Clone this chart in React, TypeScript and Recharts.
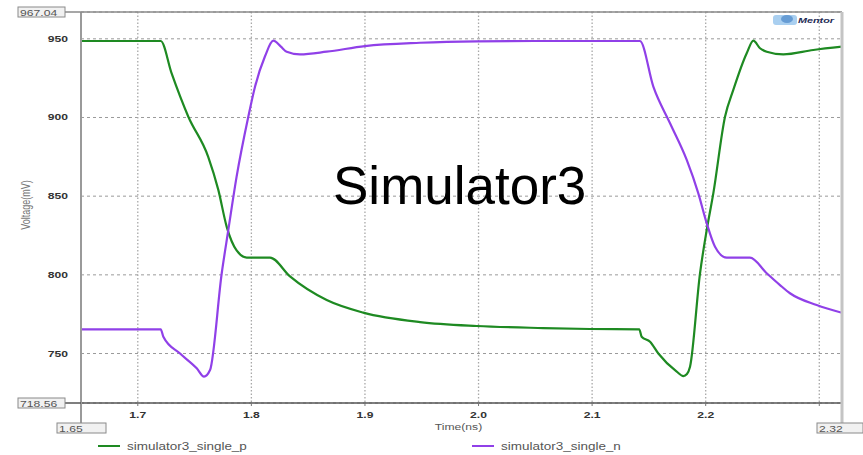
import { CartesianGrid, Legend, Line, LineChart, XAxis, YAxis } from "recharts";

// axis ranges and ticks
const xDomain = [1.65, 2.32];
const yDomain = [718.56, 967.04];
const xTicks = [1.7, 1.8, 1.9, 2.0, 2.1, 2.2, 2.3];
const xLabels = ["1.7", "1.8", "1.9", "2.0", "2.1", "2.2"];
const yTicks = [750, 800, 850, 900, 950];
const seriesNames = ["simulator3_single_p", "simulator3_single_n"];

// simulator3_single_p  (time in ns, voltage in mV)
const pTime = [
  1.65, 1.7202, 1.7298, 1.7445, 1.762, 1.7709, 1.7783, 1.787, 1.7959, 1.8164,
  1.834, 1.8663, 1.8985, 1.9485, 1.9984, 2.057, 2.0981, 2.1415, 2.1436, 2.151,
  2.1583, 2.1745, 2.1803, 2.1835, 2.1862, 2.195, 2.2009, 2.2067, 2.217, 2.2243,
  2.2361, 2.242, 2.2478, 2.2537, 2.2683, 2.2947, 2.32,
];
const pVolt = [
  948.6, 948.6, 928, 900.5, 875, 854, 830.5, 815.5, 811, 811,
  799, 784, 776, 770, 767.5, 766.2, 765.6, 765.4, 760.7, 757.5,
  750, 738.5, 735.7, 737, 741.6, 801, 828.5, 851.8, 900.5, 917.5,
  940.8, 948.8, 944, 941.8, 940.1, 942.9, 945,
];

// simulator3_single_n
const nTime = [
  1.65, 1.7202, 1.7225, 1.7372, 1.7519, 1.7583, 1.7636, 1.7739, 1.7797, 1.787,
  1.7973, 1.8032, 1.812, 1.8193, 1.826, 1.8311, 1.8428, 1.8663, 1.9, 1.9485,
  1.9984, 2.05, 2.1421, 2.1539, 2.1686, 2.1833, 2.1935, 2.2009, 2.2082, 2.2185,
  2.239, 2.2537, 2.2654, 2.2742, 2.2977, 2.32,
];
const nVolt = [
  765.4, 765.4, 760.7, 750, 740.6, 735.3, 739.5, 801, 828.5, 862.4,
  900.5, 919.6, 938.9, 948.8, 945, 941.8, 940.1, 941.8, 945.4, 947.5,
  948.4, 948.6, 948.6, 919.6, 896.3, 873, 851.8, 832.8, 817.9, 810.9,
  810.9, 801, 793.5, 788.3, 780.8, 775.9,
];

const pData = pTime.map((t, i) => ({ t, v: pVolt[i] }));
const nData = nTime.map((t, i) => ({ t, v: nVolt[i] }));

const FONT = "'Liberation Sans', Arial, sans-serif";
const SX = 1.35; // text in this plot is drawn horizontally stretched

function XTick(props: any) {
  const { x, y, payload } = props;
  const label = xLabels.find((l) => Number(l) === payload.value) ?? "";
  return (
    <text
      transform={`translate(${x},${y + 7}) scale(${SX},1)`}
      textAnchor="middle"
      fontSize={9}
      fontWeight={700}
      fontFamily={FONT}
      fill="#333"
    >
      {label}
    </text>
  );
}

function YTick(props: any) {
  const { x, y, payload } = props;
  return (
    <text
      transform={`translate(${x},${y + 3}) scale(${SX},1)`}
      textAnchor="end"
      fontSize={9}
      fontWeight={700}
      fontFamily={FONT}
      fill="#333"
    >
      {payload.value}
    </text>
  );
}

function XTitle(props: any) {
  const { x, y, width, height } = props.viewBox;
  return (
    <text
      transform={`translate(${x + width / 2 - 3},${y + height - 5}) scale(${SX},1)`}
      textAnchor="middle"
      fontSize={9}
      fontFamily={FONT}
      fill="#555"
    >
      Time(ns)
    </text>
  );
}

function YTitle() {
  return (
    <text
      transform={`translate(30,205) scale(${SX},1) rotate(-90)`}
      textAnchor="middle"
      fontSize={9}
      fontFamily={FONT}
      fill="#777"
    >
      Voltage(mV)
    </text>
  );
}

function LegendRow(props: any) {
  const items = props.payload ?? [];
  const lefts = [98, 472];
  return (
    <svg width={863} height={20} style={{ display: "block" }}>
      {seriesNames.map((name, i) => {
        const item = items.find((it: any) => it.value === name);
        if (!item) return null;
        return (
          <g key={name}>
            <line x1={lefts[i]} x2={lefts[i] + 22} y1={11} y2={11} stroke={item.color} strokeWidth={2} />
            <text
              transform={`translate(${lefts[i] + 29},14.5) scale(${SX},1)`}
              fontSize={10}
              fontFamily={FONT}
              fill="#555"
            >
              {name}
            </text>
          </g>
        );
      })}
    </svg>
  );
}

function RangeBox({ x, y, w, text }: { x: number; y: number; w: number; text: string }) {
  return (
    <g>
      <rect x={x} y={y} width={w} height={10} fill="#f1f1f1" stroke="#8a8a8a" strokeWidth={1} />
      <text
        transform={`translate(${x + 2},${y + 8.5}) scale(${SX},1)`}
        fontSize={9}
        fontFamily={FONT}
        fill="#555"
      >
        {text}
      </text>
    </g>
  );
}

export default function App() {
  return (
    <div style={{ position: "absolute", left: 0, top: 0, width: 863, height: 455, background: "#fff" }}>
      <LineChart width={863} height={455} margin={{ top: 12, right: 21, bottom: 0, left: 0 }}>
        <CartesianGrid vertical={false} stroke="#9a9a9a" strokeDasharray="3 3" />
        <CartesianGrid horizontal={false} stroke="#a8a8a8" strokeDasharray="1.5 2" strokeWidth={1.3} />
        <XAxis
          type="number"
          dataKey="t"
          domain={xDomain}
          ticks={xTicks}
          interval={0}
          allowDataOverflow
          height={32}
          tickSize={3}
          tickMargin={5}
          tick={<XTick />}
          tickLine={{ stroke: "#777" }}
          axisLine={{ stroke: "#555", strokeWidth: 1.5 }}
          label={<XTitle />}
        />
        <YAxis
          type="number"
          domain={yDomain}
          ticks={yTicks}
          interval={0}
          allowDataOverflow
          width={81}
          tickSize={0}
          tickLine={false}
          tickMargin={13}
          tick={<YTick />}
          axisLine={{ stroke: "#9a9a9a", strokeWidth: 2 }}
          label={<YTitle />}
        />
        <Legend
          verticalAlign="bottom"
          content={<LegendRow />}
          wrapperStyle={{ left: 0, width: 863, height: 20 }}
        />
        <Line
          data={pData}
          dataKey="v"
          name={seriesNames[0]}
          type="monotone"
          stroke="#1e8a22"
          strokeWidth={2.2}
          dot={false}
          isAnimationActive={false}
        />
        <Line
          data={nData}
          dataKey="v"
          name={seriesNames[1]}
          type="monotone"
          stroke="#9040e8"
          strokeWidth={2.2}
          dot={false}
          isAnimationActive={false}
        />
      </LineChart>

      <svg width={863} height={455} style={{ position: "absolute", left: 0, top: 0, pointerEvents: "none" }}>
        {/* frame lines around the plot */}
        <line x1={65} x2={842} y1={12} y2={12} stroke="#8a8a8a" strokeWidth={1.5} />
        <line x1={842} x2={842} y1={12} y2={423} stroke="#c4c4c4" strokeWidth={3} />
        <line x1={81} x2={81} y1={403} y2={423} stroke="#9a9a9a" strokeWidth={2} />
        <line x1={65} x2={81} y1={403} y2={403} stroke="#555" strokeWidth={1.5} />

        <RangeBox x={18} y={7} w={47} text={yDomain[1].toFixed(2)} />
        <RangeBox x={18} y={398} w={47} text={yDomain[0].toFixed(2)} />
        <RangeBox x={57} y={423} w={49} text={xDomain[0].toFixed(2)} />
        <RangeBox x={817} y={423} w={46} text={xDomain[1].toFixed(2)} />

        {/* vendor logo */}
        <rect x={773} y={15} width={24} height={10} rx={3} fill="#a9cff0" />
        <ellipse cx={787} cy={19} rx={6} ry={4} fill="#4a86c8" opacity={0.7} />
        <text
          transform={`translate(798,23) scale(${SX},1)`}
          fontSize={8}
          fontStyle="italic"
          fontWeight={700}
          fontFamily={FONT}
          fill="#1d2a55"
        >
          Mentor
        </text>

        <text x={333} y={204} fontSize={53} fontFamily={FONT} fill="#000">
          Simulator3
        </text>
      </svg>
    </div>
  );
}
